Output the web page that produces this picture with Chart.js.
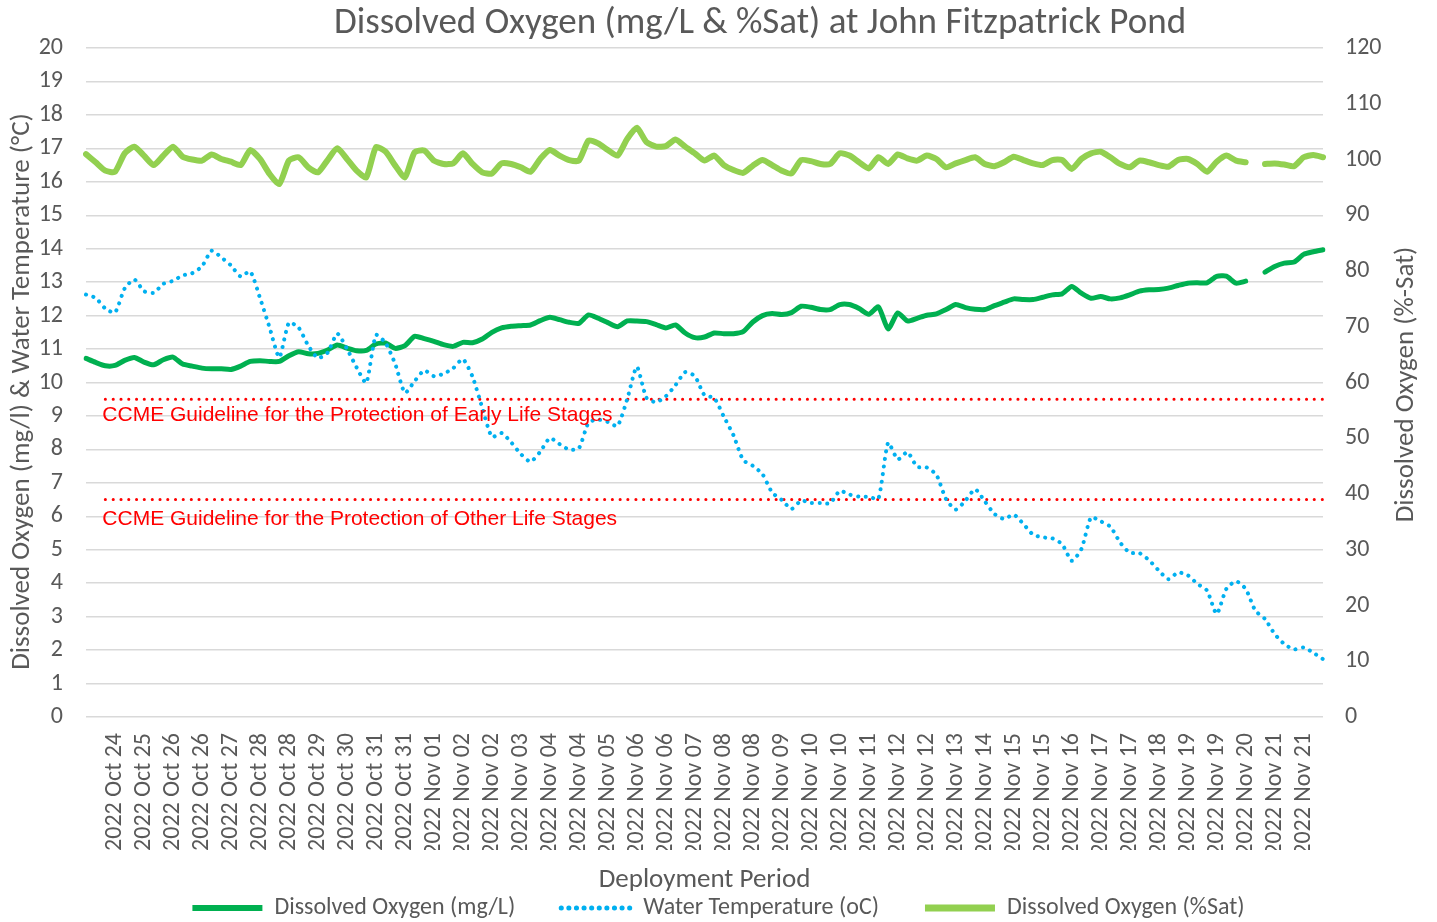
<!DOCTYPE html>
<html>
<head>
<meta charset="utf-8">
<title>Dissolved Oxygen - John Fitzpatrick Pond</title>
<script src="https://cdn.jsdelivr.net/npm/chart.js@4.4.0/dist/chart.umd.min.js"></script>
<style>
  html, body { margin: 0; padding: 0; background: #fff; }
  #wrap { width: 1437px; height: 922px; }
</style>
</head>
<body>
<div id="wrap"><canvas id="doChart"></canvas></div>
<script>
const FONT = "Carlito, Calibri, Lato, sans-serif";
const GREY = "#595959";

const chartTitle = "Dissolved Oxygen (mg/L & %Sat) at John Fitzpatrick Pond";
const leftAxisTitle = "Dissolved Oxygen (mg/l) & Water Temperature (\u00B0C)";
const rightAxisTitle = "Dissolved Oxygen (%-Sat)";
const xAxisTitle = "Deployment Period";

// date labels shown under the axis (one every 3 readings below)
const tickLabels = [
  "2022 Oct 24", "2022 Oct 25", "2022 Oct 26", "2022 Oct 26", "2022 Oct 27",
  "2022 Oct 28", "2022 Oct 28", "2022 Oct 29", "2022 Oct 30", "2022 Oct 31",
  "2022 Oct 31", "2022 Nov 01", "2022 Nov 02", "2022 Nov 02", "2022 Nov 03",
  "2022 Nov 04", "2022 Nov 04", "2022 Nov 05", "2022 Nov 06", "2022 Nov 06",
  "2022 Nov 07", "2022 Nov 08", "2022 Nov 08", "2022 Nov 09", "2022 Nov 10",
  "2022 Nov 10", "2022 Nov 11", "2022 Nov 12", "2022 Nov 12", "2022 Nov 13",
  "2022 Nov 14", "2022 Nov 15", "2022 Nov 15", "2022 Nov 16", "2022 Nov 17",
  "2022 Nov 17", "2022 Nov 18", "2022 Nov 19", "2022 Nov 19", "2022 Nov 20",
  "2022 Nov 21", "2022 Nov 21"
];
const readingsPerLabel = 3;

// Dissolved oxygen, mg/L (left axis)
const doMgL = [
  10.72, 10.60, 10.50, 10.51, 10.66, 10.75, 10.61, 10.53, 10.68, 10.76,
  10.55, 10.49, 10.43, 10.41, 10.41, 10.39, 10.49, 10.63, 10.65, 10.63,
  10.63, 10.80, 10.92, 10.86, 10.87, 10.97, 11.12, 11.03, 10.95, 10.96,
  11.15, 11.18, 11.02, 11.10, 11.38, 11.31, 11.23, 11.13, 11.08, 11.20,
  11.19, 11.30, 11.50, 11.63, 11.68, 11.70, 11.72, 11.85, 11.95, 11.88,
  11.80, 11.77, 12.02, 11.92, 11.79, 11.67, 11.84, 11.84, 11.82, 11.73,
  11.63, 11.72, 11.48, 11.34, 11.36, 11.48, 11.46, 11.46, 11.52, 11.81,
  12.00, 12.06, 12.03, 12.09, 12.28, 12.25, 12.18, 12.18, 12.33, 12.33,
  12.21, 12.04, 12.26, 11.60, 12.08, 11.84, 11.92, 12.01, 12.05, 12.18,
  12.33, 12.24, 12.19, 12.18, 12.30, 12.40, 12.50, 12.48, 12.48, 12.55,
  12.62, 12.65, 12.87, 12.67, 12.52, 12.57, 12.50, 12.53, 12.62, 12.73,
  12.77, 12.78, 12.82, 12.90, 12.97, 12.98, 12.98, 13.17, 13.18, 12.97,
  13.03, null, 13.30, 13.47, 13.57, 13.60, 13.83, 13.91, 13.97
];

// Water temperature, oC (left axis)
const waterTemp = [
  12.63, 12.53, 12.21, 12.09, 12.81, 13.08, 12.73, 12.68, 12.95, 13.04,
  13.20, 13.27, 13.47, 13.94, 13.74, 13.50, 13.17, 13.32, 12.53, 11.64,
  10.75, 11.79, 11.64, 11.10, 10.73, 10.89, 11.46, 11.01, 10.45, 9.99,
  11.42, 11.18, 10.55, 9.69, 10.04, 10.36, 10.19, 10.26, 10.43, 10.70,
  10.17, 9.25, 8.37, 8.49, 8.21, 7.86, 7.63, 7.93, 8.34, 8.16,
  7.99, 8.03, 8.80, 8.89, 8.82, 8.70, 9.50, 10.47, 9.54, 9.41,
  9.59, 9.92, 10.31, 10.19, 9.62, 9.54, 8.98, 8.42, 7.68, 7.51,
  7.26, 6.71, 6.49, 6.22, 6.47, 6.40, 6.40, 6.39, 6.76, 6.65,
  6.59, 6.58, 6.53, 8.20, 7.70, 7.92, 7.48, 7.46, 7.24, 6.51,
  6.20, 6.47, 6.81, 6.45, 6.07, 5.92, 6.05, 5.77, 5.45, 5.37,
  5.34, 5.17, 4.67, 5.02, 5.97, 5.85, 5.69, 5.22, 4.91, 4.90,
  4.69, 4.38, 4.12, 4.32, 4.24, 3.98, 3.78, 3.08, 3.83, 4.06,
  3.83, 3.18, 2.93, 2.48, 2.18, 2.02, 2.08, 1.92, 1.73
];

// Dissolved oxygen, % saturation (right axis)
const doSat = [
  100.96, 99.5, 98.0, 97.8, 101.1, 102.3, 100.7, 99.0, 100.7, 102.3,
  100.5, 100.0, 99.8, 100.9, 100.1, 99.6, 99.0, 101.7, 100.1, 97.4,
  95.6, 99.8, 100.4, 98.6, 97.7, 99.9, 102.0, 100.1, 98.0, 96.8,
  102.2, 101.4, 98.9, 96.8, 101.3, 101.6, 99.8, 99.2, 99.3, 101.1,
  99.2, 97.7, 97.5, 99.3, 99.2, 98.6, 97.8, 100.1, 101.7, 100.7,
  99.9, 99.8, 103.4, 102.9, 101.7, 100.7, 103.7, 105.7, 103.1, 102.3,
  102.4, 103.6, 102.3, 101.1, 99.8, 100.7, 99.0, 98.1, 97.6, 98.9,
  99.9, 99.0, 98.0, 97.5, 99.9, 99.7, 99.2, 99.2, 101.1, 100.7,
  99.5, 98.4, 100.4, 99.2, 100.9, 100.2, 99.8, 100.7, 100.1, 98.6,
  99.3, 99.9, 100.4, 99.2, 98.8, 99.5, 100.5, 99.9, 99.3, 99.0,
  99.9, 99.9, 98.3, 100.1, 101.1, 101.4, 100.4, 99.2, 98.6, 99.8,
  99.5, 99.0, 98.7, 99.9, 100.1, 99.2, 97.8, 99.6, 100.7, 99.8,
  99.5, null, 99.2, 99.3, 99.1, 98.8, 100.4, 100.8, 100.4
];

// CCME guidelines (mg/L)
const earlyLifeGuideline = 9.5;
const otherLifeGuideline = 6.5;
const guidelineStart = 2;
const earlyLifeText = "CCME Guideline for the Protection of Early Life Stages";
const otherLifeText = "CCME Guideline for the Protection of Other Life Stages";

const xLabels = doMgL.map((v, i) =>
  i > 0 && i % readingsPerLabel === 0 ? tickLabels[i / readingsPerLabel - 1] : ""
);
const guideline = (level) => doMgL.map((v, i) => (i >= guidelineStart ? level : null));

Chart.defaults.font.family = FONT;
Chart.defaults.color = GREY;

// title, axis titles and guideline captions
const extraText = {
  id: "extraText",
  afterDraw(chart) {
    const ctx = chart.ctx;
    const area = chart.chartArea;
    const yScale = chart.scales.y;
    const xScale = chart.scales.x;
    const midY = (area.top + area.bottom) / 2;
    ctx.save();
    ctx.fillStyle = GREY;
    ctx.textAlign = "center";
    ctx.textBaseline = "middle";
    ctx.font = "37px " + FONT;
    ctx.fillText(chartTitle, 760, 24);

    ctx.font = "27px " + FONT;
    ctx.save();
    ctx.translate(22, midY + 9);
    ctx.rotate(-Math.PI / 2);
    ctx.fillText(leftAxisTitle, 0, 0);
    ctx.restore();

    ctx.save();
    ctx.translate(1406, midY + 2);
    ctx.rotate(-Math.PI / 2);
    ctx.fillText(rightAxisTitle, 0, 0);
    ctx.restore();

    ctx.fillStyle = "#FF0000";
    ctx.textAlign = "left";
    ctx.textBaseline = "alphabetic";
    ctx.font = "21px 'Liberation Sans', Arial, sans-serif";
    const gx = xScale.getPixelForValue(guidelineStart) - 3;
    ctx.fillText(earlyLifeText, gx, yScale.getPixelForValue(earlyLifeGuideline) + 22);
    ctx.fillText(otherLifeText, gx, yScale.getPixelForValue(otherLifeGuideline) + 25);
    ctx.restore();
  }
};

new Chart("doChart", {
  type: "line",
  data: {
    labels: xLabels,
    datasets: [
      {
        label: "Dissolved Oxygen (mg/L)",
        data: doMgL,
        borderColor: "#00B050",
        backgroundColor: "#00B050",
        borderWidth: 5,
        yAxisID: "y",
        order: 1,
      },
      {
        label: "Water Temperature (oC)",
        data: waterTemp,
        borderColor: "#00B0F0",
        backgroundColor: "#00B0F0",
        borderWidth: 4,
        borderDash: [0.1, 7.5],
        borderCapStyle: "round",
        yAxisID: "y",
        order: 0,
      },
      {
        label: "Dissolved Oxygen (%Sat)",
        data: doSat,
        borderColor: "#92D050",
        backgroundColor: "#92D050",
        borderWidth: 6,
        yAxisID: "y1",
        order: 2,
      },
      {
        label: "Early life guideline",
        data: guideline(earlyLifeGuideline),
        borderColor: "#FF0000",
        borderWidth: 3,
        borderDash: [0.1, 7.7],
        borderCapStyle: "round",
        yAxisID: "y",
        order: 3,
      },
      {
        label: "Other life guideline",
        data: guideline(otherLifeGuideline),
        borderColor: "#FF0000",
        borderWidth: 3,
        borderDash: [0.1, 7.7],
        borderCapStyle: "round",
        yAxisID: "y",
        order: 3,
      },
    ],
  },
  options: {
    responsive: true,
    maintainAspectRatio: false,
    animation: false,
    spanGaps: false,
    layout: { padding: { top: 48, left: 0, right: 0, bottom: -8 } },
    elements: {
      point: { radius: 0, hoverRadius: 0 },
      line: { tension: 0.2, borderCapStyle: "round", borderJoinStyle: "round" },
    },
    plugins: {
      title: { display: false },
      tooltip: { enabled: false },
      legend: {
        position: "bottom",
        labels: {
          usePointStyle: true,
          pointStyle: "line",
          pointStyleWidth: 70,
          padding: 46,
          color: GREY,
          font: { size: 24, family: FONT },
          filter: (item) => item.datasetIndex < 3,
          sort: (a, b) => a.datasetIndex - b.datasetIndex,
          generateLabels: (chart) =>
            Chart.defaults.plugins.legend.labels.generateLabels(chart).map((item) => {
              const ds = chart.data.datasets[item.datasetIndex];
              item.lineDash = ds.borderDash || [];
              item.lineCap = ds.borderDash ? "round" : "butt";
              item.lineWidth = ds.borderWidth + 1;
              return item;
            }),
        },
      },
    },
    scales: {
      x: {
        grid: { display: false },
        border: { display: false },
        ticks: {
          autoSkip: false,
          maxRotation: 90,
          minRotation: 90,
          padding: 8,
          color: GREY,
          font: { size: 24 },
        },
        title: {
          display: true,
          text: xAxisTitle,
          color: GREY,
          font: { size: 27 },
          padding: { top: 0, bottom: -46 },
        },
        afterFit: (scale) => { scale.height = 133; },
      },
      y: {
        position: "left",
        min: 0,
        max: 20,
        ticks: { stepSize: 1, padding: 23, color: GREY, font: { size: 24 } },
        grid: { color: "#D9D9D9", lineWidth: 1.5, drawTicks: false },
        border: { display: false },
        afterFit: (scale) => { scale.width = 86; },
      },
      y1: {
        position: "right",
        min: 0,
        max: 120,
        ticks: { stepSize: 10, padding: 22, color: GREY, font: { size: 24 } },
        grid: { display: false, drawTicks: false },
        border: { display: false },
        afterFit: (scale) => { scale.width = 114; },
      },
    },
  },
  plugins: [extraText],
});
</script>
</body>
</html>
